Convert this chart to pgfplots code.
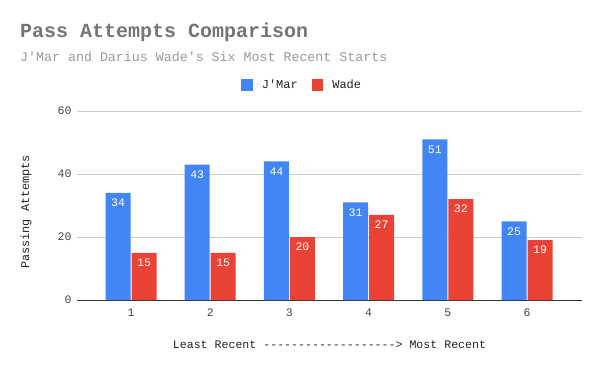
\documentclass[border=0pt]{standalone}
\usepackage{fontspec}
\newfontfamily\mono{Liberation Mono}
\usepackage{pgfplots}
\usepackage{pgfplotstable}
\pgfplotsset{compat=1.18}
\definecolor{cblue}{HTML}{4285F4}
\definecolor{cred}{HTML}{EA4335}
\definecolor{ctitle}{HTML}{757575}
\definecolor{csub}{HTML}{999999}
\definecolor{ctick}{HTML}{444444}
\definecolor{clab}{HTML}{222222}
\definecolor{cgrid}{HTML}{CCCCCC}
\definecolor{caxis}{HTML}{333333}

\pgfplotstableread{
x jmar wade
1 34 15
2 43 15
3 44 20
4 31 27
5 51 32
6 25 19
}\datatable

\begin{document}
\begin{tikzpicture}[x=1bp,y=1bp]
\path[use as bounding box] (0,0) rectangle (600,371);
\node[anchor=base west, inner sep=0, text=ctitle, font=\mono\bfseries\fontsize{20bp}{24bp}\selectfont] at (20,334) {Pass Attempts Comparison};
\node[anchor=base west, inner sep=0, text=csub, font=\mono\fontsize{13.3bp}{16bp}\selectfont] at (20,310) {J'Mar and Darius Wade's Six Most Recent Starts};
\begin{axis}[
  at={(77bp,71bp)}, anchor=south west,
  scale only axis, width=505bp, height=189bp,
  ybar=1bp, bar width=25bp,
  xmin=0.318, xmax=6.694, ymin=0, ymax=60,
  xtick={1,2,3,4,5,6}, ytick={0,20,40,60},
  axis line style={draw=none},
  major tick length=0, tick style={draw=none},
  ymajorgrids, grid style={cgrid, line width=0.8bp},
  extra y ticks={0}, extra y tick labels={},
  extra y tick style={grid=major, major grid style={caxis, line width=1bp}},
  /pgf/number format/assume math mode=true,
  ticklabel style={font=\mono\fontsize{11.5bp}{13bp}\selectfont, text=ctick},
  yticklabel style={xshift=-2bp},
  xticklabel style={yshift=-5bp},
  ylabel={Passing Attempts},
  ylabel style={at={(rel axis cs:-0.101,0.466)}, anchor=center, font=\mono\fontsize{11.8bp}{14bp}\selectfont, text=clab},
  xlabel={Least Recent -------------------> Most Recent},
  xlabel style={at={(rel axis cs:0.5,0)}, anchor=base, yshift=-48bp, font=\mono\fontsize{11.6bp}{14bp}\selectfont, text=clab},
  legend columns=2,
  legend style={at={(rel axis cs:0.325,1.1376)}, anchor=west, draw=none, fill=none, inner sep=0pt,
    font=\mono\fontsize{12bp}{14bp}\selectfont, text=clab,
    /tikz/every even column/.append style={column sep=12bp}},
  nodes near coords,
  every node near coord/.append style={font=\mono\fontsize{11.5bp}{13bp}\selectfont, text=white, anchor=center, yshift=-10bp},
]
\addplot[fill=cblue, draw=none, legend image code/.code={\fill[cblue] (0bp,-6bp) rectangle (11.5bp,6bp); \path (0bp,0bp) -- (18.5bp,0bp);}] table[x=x, y=jmar] {\datatable};
\addplot[fill=cred, draw=none, legend image code/.code={\fill[cred] (0bp,-6bp) rectangle (11.5bp,6bp); \path (0bp,0bp) -- (18.5bp,0bp);}] table[x=x, y=wade] {\datatable};
\legend{J'Mar, Wade}
\end{axis}
\end{tikzpicture}
\end{document}
